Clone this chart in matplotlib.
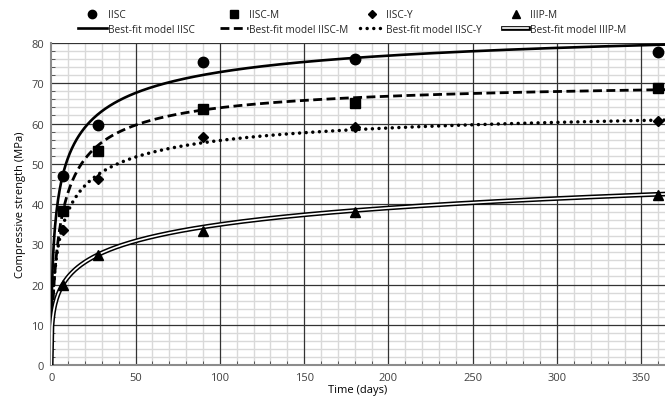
import numpy as np
import matplotlib.pyplot as plt
from matplotlib.ticker import MultipleLocator
from matplotlib.lines import Line2D
import matplotlib.patheffects as pe

plt.rcParams["font.family"] = ["Open Sans", "DejaVu Sans"]

# measured strengths
days = [7, 28, 90, 180, 360]
iisc = [47.0, 59.7, 75.3, 76.1, 77.8]
iisc_m = [38.3, 53.2, 63.6, 65.2, 68.9]
iisc_y = [33.5, 46.2, 56.7, 59.1, 60.7]
iiip_m = [20.0, 27.3, 33.3, 38.1, 42.3]

# best-fit model parameters, S(t) = a * t^p / (b + t^p)
fit_iisc = (88.0, 2.40, 0.53)
fit_iisc_m = (71.5, 3.75, 0.75)
fit_iisc_y = (66.0, 2.90, 0.60)
fit_iiip_m = (70.0, 4.81, 0.34)

x_major = [0, 50, 100, 150, 200, 250, 300, 350]
y_major = [10, 20, 30, 40, 50, 60, 70, 80]


def model(t, params):
    a, b, p = params
    tp = np.power(t, p)
    return a * tp / (b + tp)


t = np.linspace(0, 364, 800)

fig = plt.figure(figsize=(6.65, 4.06), dpi=100)
ax = fig.add_axes([0.077, 0.0985, 0.923, 0.793])

ax.set_xlim(0, 364)
ax.set_ylim(0, 80)
ax.xaxis.set_major_locator(MultipleLocator(50))
ax.xaxis.set_minor_locator(MultipleLocator(10))
ax.yaxis.set_major_locator(MultipleLocator(10))
ax.yaxis.set_minor_locator(MultipleLocator(2))
ax.grid(which="minor", color="#d9d9d9", linewidth=1.0)
ax.set_axisbelow(True)
for xv in x_major[1:]:
    ax.axvline(xv, color="#333333", lw=0.9, zorder=1)
for yv in y_major:
    ax.axhline(yv, color="#333333", lw=0.9, zorder=1)
ax.tick_params(which="major", length=0, labelsize=8, colors="#404040", pad=5)
ax.tick_params(which="minor", direction="in", length=3, color="#404040")
for s in ["top", "right"]:
    ax.spines[s].set_visible(False)
for s in ["left", "bottom"]:
    ax.spines[s].set_color("#8c8c8c")
    ax.spines[s].set_linewidth(1.5)
    ax.spines[s].set_zorder(2)

dash = (0, (3.2, 1.6))
dots = (0, (0.01, 1.9))
double = [pe.Stroke(linewidth=3.4, foreground="black"),
          pe.Stroke(linewidth=1.2, foreground="white")]

# fitted curves
ax.plot(t, model(t, fit_iisc), color="black", lw=1.9, zorder=3)
ax.plot(t, model(t, fit_iisc_m), color="black", lw=2.0, ls=dash, zorder=3)
ax.plot(t, model(t, fit_iisc_y), color="black", lw=2.5, ls=dots,
        dash_capstyle="round", zorder=3)
ax.plot(t, model(t, fit_iiip_m), color="white", lw=1.2, path_effects=double, zorder=3)

# data points
ax.plot(days, iisc, "o", color="black", ms=7.5, zorder=4, clip_on=False)
ax.plot(days, iisc_m, "s", color="black", ms=7, zorder=4, clip_on=False)
ax.plot(days, iisc_y, "D", color="black", ms=5.5, zorder=4, clip_on=False)
ax.plot(days, iiip_m, "^", color="black", ms=7, zorder=4, clip_on=False)

ax.set_xlabel("Time (days)", fontsize=8, labelpad=1)
ax.set_ylabel("Compressive strength (MPa)", fontsize=8, labelpad=4)

# legend: one small two-row block per series
columns = [
    (Line2D([], [], ls="none", marker="o", color="black", ms=6),
     Line2D([], [], color="black", lw=1.9),
     "IISC", "Best-fit model IISC", 78, 2.85),
    (Line2D([], [], ls="none", marker="s", color="black", ms=6),
     Line2D([], [], color="black", lw=2.0, ls=dash),
     "IISC-M", "Best-fit model IISC-M", 220, 2.75),
    (Line2D([], [], ls="none", marker="D", color="black", ms=4.5),
     Line2D([], [], color="black", lw=2.5, ls=dots, dash_capstyle="round"),
     "IISC-Y", "Best-fit model IISC-Y", 360, 2.45),
    (Line2D([], [], ls="none", marker="^", color="black", ms=6),
     Line2D([], [], color="white", lw=1.2, path_effects=double),
     "IIIP-M", "Best-fit model IIIP-M", 503, 2.5),
]
for mk, ln, lab1, lab2, x0, hl in columns:
    leg = fig.legend([mk, ln], [lab1, lab2], loc="upper left",
                     bbox_to_anchor=(x0 / 665, 0.975), frameon=False,
                     fontsize=7.3, handlelength=hl, handletextpad=0.15,
                     labelspacing=0.35, borderpad=0, borderaxespad=0)
    for txt in leg.get_texts():
        txt.set_color("#262626")

fig.savefig("out.png", dpi=100)
